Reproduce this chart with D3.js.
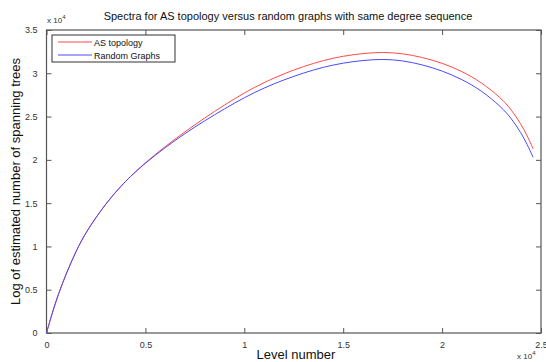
<!DOCTYPE html>
<html>
<head>
<meta charset="utf-8">
<script src="https://cdn.jsdelivr.net/npm/d3@7"></script>
<style>
  body { margin: 0; background: #fff; }
  text { font-family: "Liberation Sans", Arial, sans-serif; }
</style>
</head>
<body>
<svg width="546" height="362"></svg>
<script>
// level number (units of 1e4)
var levels = [0, 0.03, 0.06, 0.1, 0.15, 0.2, 0.3, 0.4, 0.5, 0.6, 0.7, 0.8, 0.9, 1.0, 1.1, 1.2, 1.3, 1.4, 1.5, 1.6, 1.7, 1.8, 1.9, 2.0, 2.1, 2.2, 2.3, 2.35, 2.4, 2.43, 2.46];
// log of estimated number of spanning trees (units of 1e4)
var asTopology = [0, 0.24, 0.45, 0.69, 0.95, 1.17, 1.5, 1.76, 1.97, 2.155, 2.325, 2.485, 2.635, 2.775, 2.895, 2.995, 3.08, 3.15, 3.2, 3.23, 3.245, 3.23, 3.185, 3.12, 3.025, 2.895, 2.71, 2.58, 2.41, 2.28, 2.13];
var randomGraphs = [0, 0.24, 0.45, 0.69, 0.95, 1.17, 1.5, 1.76, 1.965, 2.143, 2.305, 2.453, 2.59, 2.72, 2.832, 2.925, 3.005, 3.072, 3.12, 3.15, 3.165, 3.148, 3.1, 3.03, 2.932, 2.8, 2.61, 2.48, 2.31, 2.18, 2.03];
var xTicks = [0, 0.5, 1, 1.5, 2, 2.5];
var yTicks = [0, 0.5, 1, 1.5, 2, 2.5, 3, 3.5];
var seriesNames = ["AS topology", "Random Graphs"];
var seriesColors = ["#ff4a4a", "#4a4aff"];

var svg = d3.select("svg");
var padding = { top: 30, bottom: 29, left: 46.5, right: 5 };
var width = +svg.attr("width");
var height = +svg.attr("height");
var canvasWidth = width - padding.left - padding.right;
var canvasHeight = height - padding.top - padding.bottom;

var x = d3.scaleLinear().domain([0, 2.5]).range([0, canvasWidth]);
var y = d3.scaleLinear().domain([0, 3.5]).range([canvasHeight, 0]);

var canvas = svg.append("g")
  .attr("transform", "translate(" + padding.left + "," + padding.top + ")");

var fmt = function (d) { return d3.format("")(d); };

// axes, ticks pointing inward like matlab
var axisColor = "#555";
var xAxisB = d3.axisBottom(x).tickValues(xTicks).tickSizeInner(-5).tickSizeOuter(0).tickPadding(9).tickFormat(fmt);
var xAxisT = d3.axisTop(x).tickValues(xTicks).tickSizeInner(-5).tickSizeOuter(0).tickFormat("");
var yAxisL = d3.axisLeft(y).tickValues(yTicks).tickSizeInner(-5).tickSizeOuter(0).tickPadding(9).tickFormat(fmt);
var yAxisR = d3.axisRight(y).tickValues(yTicks).tickSizeInner(-5).tickSizeOuter(0).tickFormat("");

var gB = canvas.append("g").attr("transform", "translate(0," + canvasHeight + ")").call(xAxisB);
var gT = canvas.append("g").call(xAxisT);
var gL = canvas.append("g").call(yAxisL);
var gR = canvas.append("g").attr("transform", "translate(" + canvasWidth + ",0)").call(yAxisR);

[gB, gT, gL, gR].forEach(function (g) {
  g.select(".domain").remove();
  g.selectAll(".tick line").attr("stroke", axisColor);
  g.selectAll(".tick text").attr("fill", "#333").style("font-size", "9px");
});

canvas.append("rect")
  .attr("width", canvasWidth)
  .attr("height", canvasHeight)
  .attr("fill", "none")
  .attr("stroke", axisColor)
  .attr("stroke-width", 1.2);

var line = d3.line()
  .x(function (d) { return x(d[0]); })
  .y(function (d) { return y(d[1]); })
  .curve(d3.curveBasis);

[asTopology, randomGraphs].forEach(function (vals, i) {
  canvas.append("path")
    .datum(levels.map(function (l, j) { return [l, vals[j]]; }))
    .attr("fill", "none")
    .attr("stroke", seriesColors[i])
    .attr("stroke-width", 1)
    .attr("d", line);
});

// legend
var legend = canvas.append("g").attr("transform", "translate(5.5,5)");
legend.append("rect")
  .attr("width", 123)
  .attr("height", 27)
  .attr("fill", "#fff")
  .attr("stroke", "#333")
  .attr("stroke-width", 1);
seriesNames.forEach(function (name, i) {
  legend.append("line")
    .attr("x1", 6).attr("x2", 40)
    .attr("y1", 7 + i * 13).attr("y2", 7 + i * 13)
    .attr("stroke", seriesColors[i]);
  legend.append("text")
    .attr("x", 42).attr("y", 10.5 + i * 13)
    .style("font-size", "9px")
    .attr("fill", "#111")
    .text(name);
});

// title and labels
svg.append("text")
  .attr("x", 288).attr("y", 20)
  .attr("text-anchor", "middle")
  .style("font-size", "11px")
  .attr("fill", "#111")
  .text("Spectra for AS topology versus random graphs with same degree sequence");

svg.append("text")
  .attr("x", 296).attr("y", 359)
  .attr("text-anchor", "middle")
  .style("font-size", "13px")
  .attr("fill", "#111")
  .text("Level number");

svg.append("text")
  .attr("transform", "translate(20," + (padding.top + canvasHeight / 2) + ") rotate(-90)")
  .attr("text-anchor", "middle")
  .style("font-size", "13px")
  .attr("fill", "#111")
  .text("Log of estimated number of spanning trees");

// exponent markers
function exponent(px, py) {
  var t = svg.append("text").attr("x", px).attr("y", py)
    .style("font-size", "8px").attr("fill", "#333");
  t.append("tspan").text("x 10");
  t.append("tspan").attr("dy", -4).style("font-size", "6px").text("4");
}
exponent(47, 23);
exponent(517, 359);
</script>
</body>
</html>
